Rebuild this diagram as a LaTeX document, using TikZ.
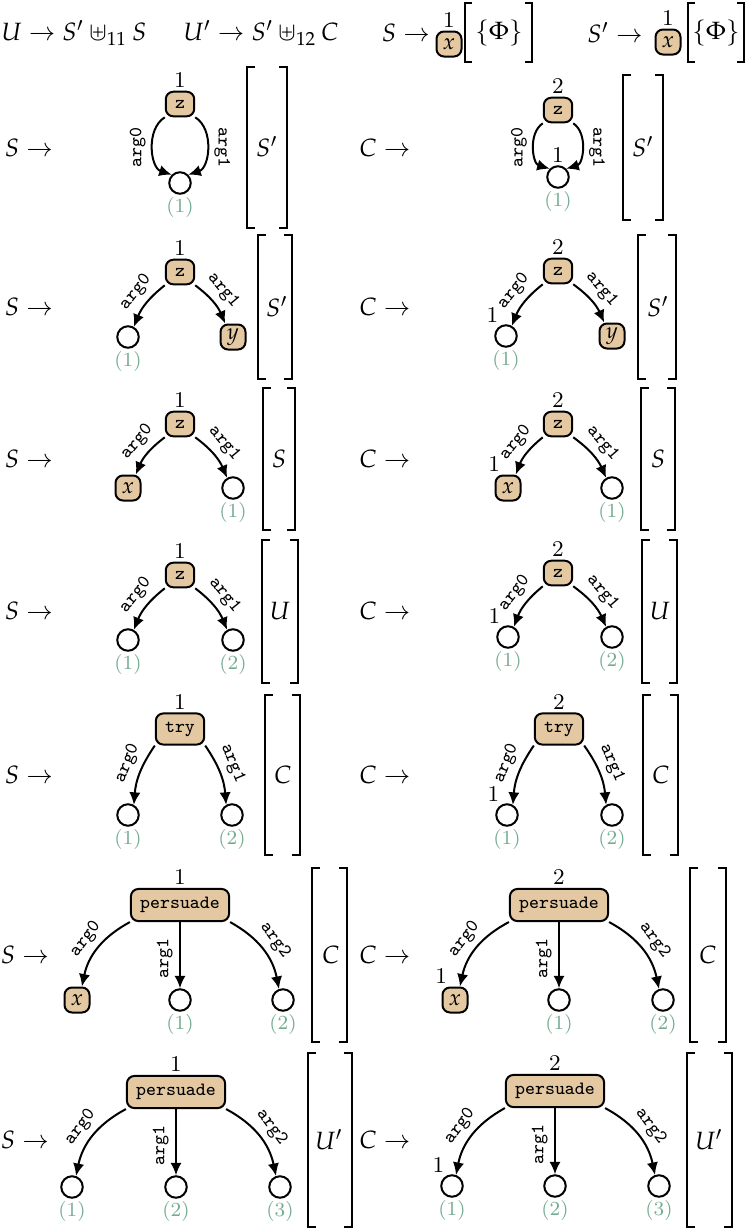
\documentclass[tikz,border=0pt]{standalone}
\usepackage{mathpazo}
\usetikzlibrary{arrows.meta}
\definecolor{predfill}{HTML}{E3C8A1}
\definecolor{idxgreen}{HTML}{74AC91}
\newcommand{\smallsz}{\fontsize{7.5}{9}\selectfont}

\begin{document}
\begin{tikzpicture}[x=0.4pt,y=-0.4pt]
\tikzstyle{pred}=[draw, line width=0.8pt, fill=predfill, rounded corners=3pt, minimum size=9.6pt, inner xsep=3.7pt, inner ysep=3.3pt, font=\smallsz\ttfamily]
\tikzstyle{var}=[pred, minimum size=10pt, inner sep=1pt, font=\small]
\tikzstyle{hole}=[draw, circle, line width=0.8pt, minimum size=8.6pt, inner sep=0pt]
\tikzstyle{edge}=[-{Latex[length=5pt,width=4.5pt]}, line width=0.8pt]
\tikzstyle{arglab}=[font=\smallsz\ttfamily, inner sep=2.5pt]
\tikzstyle{num}=[font=\fontsize{9}{10}\selectfont, inner sep=1pt]
\tikzstyle{numl}=[num, xshift=1.4pt, yshift=0.8pt]
\tikzstyle{numx}=[num, xshift=3.4pt, yshift=0.2pt]
\tikzstyle{idx}=[font=\fontsize{8}{9}\selectfont, text=idxgreen, inner sep=1pt]
\tikzstyle{brak}=[line width=0.6pt]
\useasboundingbox (0,0) rectangle (747,1229);

% top line
\node (topU) at (74,33) {$U \to S' \uplus_{11} S$};
\node (topUp) at (261,33) {$U' \to S' \uplus_{12} C$};
\node (topS) at (406,33) {$S \to$};
\node[var, label={[num]above:1}] (xS) at (449,44) {$x$};
\draw[brak] (472,3) -| (465,62) -- (472,62);
\draw[brak] (525,3) -| (532,62) -- (525,62);
\node (phiS) at (499,33) {$\{\Phi\}$};
\node (topSp) at (615,33) {$S' \to$};
\node[var, label={[num]above:1}] (xSp) at (668,42) {$x$};
\draw[brak] (695,3) -| (688,62) -- (695,62);
\draw[brak] (737,3) -| (744,62) -- (737,62);
\node (phiSp) at (716,33) {$\{\Phi\}$};

% row 1
\node (lhs1L) at (29,148) {$S \to$};
\node[pred, label={[num]above:1}] (p1L) at (180,104) {z};
\node[hole, label={[idx]below:(1)}] (a1L) at (180,183) {};
\draw[edge] (p1L.south west) to[bend right=65] node[arglab, midway, above, rotate=90] {arg0} (a1L.north west);
\draw[edge] (p1L.south east) to[bend left=65] node[arglab, midway, above, rotate=-90] {arg1} (a1L.north east);
\draw[brak] (255,67) -| (247,228) -- (255,228);
\draw[brak] (279,67) -| (287,228) -- (279,228);
\node (rhs1L) at (267,147) {$S'$};
\node (lhs1R) at (385,148) {$C \to$};
\node[pred, label={[num]above:2}] (p1R) at (558,110) {z};
\node[hole, label={[num]above:1}, label={[idx]below:(1)}] (a1R) at (558,177) {};
\draw[edge] (p1R.south west) to[bend right=65] node[arglab, midway, above, rotate=90] {arg0} (a1R.north west);
\draw[edge] (p1R.south east) to[bend left=65] node[arglab, midway, above, rotate=-90] {arg1} (a1R.north east);
\draw[brak] (631,75) -| (623,220) -- (631,220);
\draw[brak] (655,75) -| (663,220) -- (655,220);
\node (rhs1R) at (643,147) {$S'$};

% row 2
\node (lhs2L) at (29,307) {$S \to$};
\node[pred, label={[num]above:1}] (p2L) at (180,272) {z};
\node[hole, label={[idx]below:(1)}] (a2L) at (128,337) {};
\node[var] (b2L) at (233,337) {$y$};
\draw[edge] (p2L.south west) to[bend right=15] node[arglab, pos=0.45, sloped, above] {arg0} (a2L.60);
\draw[edge] (p2L.south east) to[bend left=15] node[arglab, pos=0.45, sloped, above] {arg1} (b2L.120);
\draw[brak] (266,235) -| (258,379) -- (266,379);
\draw[brak] (284,235) -| (292,379) -- (284,379);
\node (rhs2L) at (277,307) {$S'$};
\node (lhs2R) at (385,307) {$C \to$};
\node[pred, label={[num]above:2}] (p2R) at (558,271) {z};
\node[hole, label={[numl]above left:1}, label={[idx]below:(1)}] (a2R) at (506,336) {};
\node[var] (b2R) at (612,336) {$y$};
\draw[edge] (p2R.south west) to[bend right=15] node[arglab, pos=0.45, sloped, above] {arg0} (a2R.60);
\draw[edge] (p2R.south east) to[bend left=15] node[arglab, pos=0.45, sloped, above] {arg1} (b2R.120);
\draw[brak] (646,235) -| (638,379) -- (646,379);
\draw[brak] (668,235) -| (676,379) -- (668,379);
\node (rhs2R) at (658,307) {$S'$};

% row 3
\node (lhs3L) at (29,459) {$S \to$};
\node[pred, label={[num]above:1}] (p3L) at (180,424) {z};
\node[var] (a3L) at (128,488) {$x$};
\node[hole, label={[idx]below:(1)}] (b3L) at (233,488) {};
\draw[edge] (p3L.south west) to[bend right=15] node[arglab, pos=0.45, sloped, above] {arg0} (a3L.60);
\draw[edge] (p3L.south east) to[bend left=15] node[arglab, pos=0.45, sloped, above] {arg1} (b3L.120);
\draw[brak] (271,388) -| (263,530) -- (271,530);
\draw[brak] (287,388) -| (295,530) -- (287,530);
\node (rhs3L) at (279,459) {$S$};
\node (lhs3R) at (385,459) {$C \to$};
\node[pred, label={[num]above:2}] (p3R) at (558,424) {z};
\node[var, label={[numx]above left:1}] (a3R) at (508,488) {$x$};
\node[hole, label={[idx]below:(1)}] (b3R) at (612,488) {};
\draw[edge] (p3R.south west) to[bend right=15] node[arglab, pos=0.45, sloped, above] {arg0} (a3R.60);
\draw[edge] (p3R.south east) to[bend left=15] node[arglab, pos=0.45, sloped, above] {arg1} (b3R.120);
\draw[brak] (649,388) -| (641,530) -- (649,530);
\draw[brak] (667,388) -| (675,530) -- (667,530);
\node (rhs3R) at (658,459) {$S$};

% row 4
\node (lhs4L) at (29,611) {$S \to$};
\node[pred, label={[num]above:1}] (p4L) at (180,575) {z};
\node[hole, label={[idx]below:(1)}] (a4L) at (128,640) {};
\node[hole, label={[idx]below:(2)}] (b4L) at (233,640) {};
\draw[edge] (p4L.south west) to[bend right=15] node[arglab, pos=0.45, sloped, above] {arg0} (a4L.60);
\draw[edge] (p4L.south east) to[bend left=15] node[arglab, pos=0.45, sloped, above] {arg1} (b4L.120);
\draw[brak] (270,540) -| (262,683) -- (270,683);
\draw[brak] (290,540) -| (298,683) -- (290,683);
\node (rhs4L) at (280,611) {$U$};
\node (lhs4R) at (385,611) {$C \to$};
\node[pred, label={[num]above:2}] (p4R) at (558,573) {z};
\node[hole, label={[numl]above left:1}, label={[idx]below:(1)}] (a4R) at (508,637) {};
\node[hole, label={[idx]below:(2)}] (b4R) at (612,637) {};
\draw[edge] (p4R.south west) to[bend right=15] node[arglab, pos=0.45, sloped, above] {arg0} (a4R.60);
\draw[edge] (p4R.south east) to[bend left=15] node[arglab, pos=0.45, sloped, above] {arg1} (b4R.120);
\draw[brak] (650,540) -| (642,683) -- (650,683);
\draw[brak] (669,540) -| (677,683) -- (669,683);
\node (rhs4R) at (660,611) {$U$};

% row 5
\node (lhs5L) at (29,775) {$S \to$};
\node[pred, label={[num]above:1}] (p5L) at (180,729) {try};
\node[hole, label={[idx]below:(1)}] (a5L) at (128,815) {};
\node[hole, label={[idx]below:(2)}] (b5L) at (232,815) {};
\draw[edge] (p5L.south west) to[bend right=15] node[arglab, pos=0.42, sloped, above] {arg0} (a5L.60);
\draw[edge] (p5L.south east) to[bend left=15] node[arglab, pos=0.42, sloped, above] {arg1} (b5L.120);
\draw[brak] (273,695) -| (265,855) -- (273,855);
\draw[brak] (292,695) -| (300,855) -- (292,855);
\node (rhs5L) at (283,775) {$C$};
\node (lhs5R) at (385,775) {$C \to$};
\node[pred, label={[num]above:2}] (p5R) at (559,729) {try};
\node[hole, label={[numl]above left:1}, label={[idx]below:(1)}] (a5R) at (507,815) {};
\node[hole, label={[idx]below:(2)}] (b5R) at (612,815) {};
\draw[edge] (p5R.south west) to[bend right=15] node[arglab, pos=0.42, sloped, above] {arg0} (a5R.60);
\draw[edge] (p5R.south east) to[bend left=15] node[arglab, pos=0.42, sloped, above] {arg1} (b5R.120);
\draw[brak] (651,695) -| (643,855) -- (651,855);
\draw[brak] (670,695) -| (678,855) -- (670,855);
\node (rhs5R) at (661,775) {$C$};

% row 6
\node (lhs6L) at (25,955) {$S \to$};
\node[pred, label={[num]above:1}] (p6L) at (180,905) {persuade};
\node[var] (a6L) at (77,1000) {$x$};
\node[hole, label={[idx]below:(1)}] (b6L) at (180,1000) {};
\node[hole, label={[idx]below:(2)}] (c6L) at (283,1000) {};
\draw[edge] (p6L.south west) to[bend right=25] node[arglab, midway, sloped, above] {arg0} (a6L.70);
\draw[edge] (p6L) -- node[arglab, pos=0.55, above, rotate=90] {arg1} (b6L);
\draw[edge] (p6L.south east) to[bend left=25] node[arglab, midway, sloped, above] {arg2} (c6L.110);
\draw[brak] (320,868) -| (312,1042) -- (320,1042);
\draw[brak] (339,868) -| (347,1042) -- (339,1042);
\node (rhs6L) at (331,955) {$C$};
\node (lhs6R) at (385,955) {$C \to$};
\node[pred, label={[num]above:2}] (p6R) at (559,905) {persuade};
\node[var, label={[numx]above left:1}] (a6R) at (455,1000) {$x$};
\node[hole, label={[idx]below:(1)}] (b6R) at (559,1000) {};
\node[hole, label={[idx]below:(2)}] (c6R) at (663,1000) {};
\draw[edge] (p6R.south west) to[bend right=25] node[arglab, midway, sloped, above] {arg0} (a6R.70);
\draw[edge] (p6R) -- node[arglab, pos=0.55, above, rotate=90] {arg1} (b6R);
\draw[edge] (p6R.south east) to[bend left=25] node[arglab, midway, sloped, above] {arg2} (c6R.110);
\draw[brak] (698,868) -| (690,1042) -- (698,1042);
\draw[brak] (718,868) -| (726,1042) -- (718,1042);
\node (rhs6R) at (708,955) {$C$};

% row 7
\node (lhs7L) at (25,1140) {$S \to$};
\node[pred, label={[num]above:1}] (p7L) at (176,1092) {persuade};
\node[hole, label={[idx]below:(1)}] (a7L) at (72,1187) {};
\node[hole, label={[idx]below:(2)}] (b7L) at (176,1187) {};
\node[hole, label={[idx]below:(3)}] (c7L) at (280,1187) {};
\draw[edge] (p7L.south west) to[bend right=25] node[arglab, midway, sloped, above] {arg0} (a7L.70);
\draw[edge] (p7L) -- node[arglab, pos=0.55, above, rotate=90] {arg1} (b7L);
\draw[edge] (p7L.south east) to[bend left=25] node[arglab, midway, sloped, above] {arg2} (c7L.110);
\draw[brak] (316,1053) -| (308,1227) -- (316,1227);
\draw[brak] (344,1053) -| (352,1227) -- (344,1227);
\node (rhs7L) at (329,1140) {$U'$};
\node (lhs7R) at (385,1140) {$C \to$};
\node[pred, label={[num]above:2}] (p7R) at (555,1091) {persuade};
\node[hole, label={[numl]above left:1}, label={[idx]below:(1)}] (a7R) at (452,1186) {};
\node[hole, label={[idx]below:(2)}] (b7R) at (555,1186) {};
\node[hole, label={[idx]below:(3)}] (c7R) at (659,1186) {};
\draw[edge] (p7R.south west) to[bend right=25] node[arglab, midway, sloped, above] {arg0} (a7R.70);
\draw[edge] (p7R) -- node[arglab, pos=0.55, above, rotate=90] {arg1} (b7R);
\draw[edge] (p7R.south east) to[bend left=25] node[arglab, midway, sloped, above] {arg2} (c7R.110);
\draw[brak] (695,1053) -| (687,1227) -- (695,1227);
\draw[brak] (724,1053) -| (732,1227) -- (724,1227);
\node (rhs7R) at (709,1140) {$U'$};
\end{tikzpicture}
\end{document}
